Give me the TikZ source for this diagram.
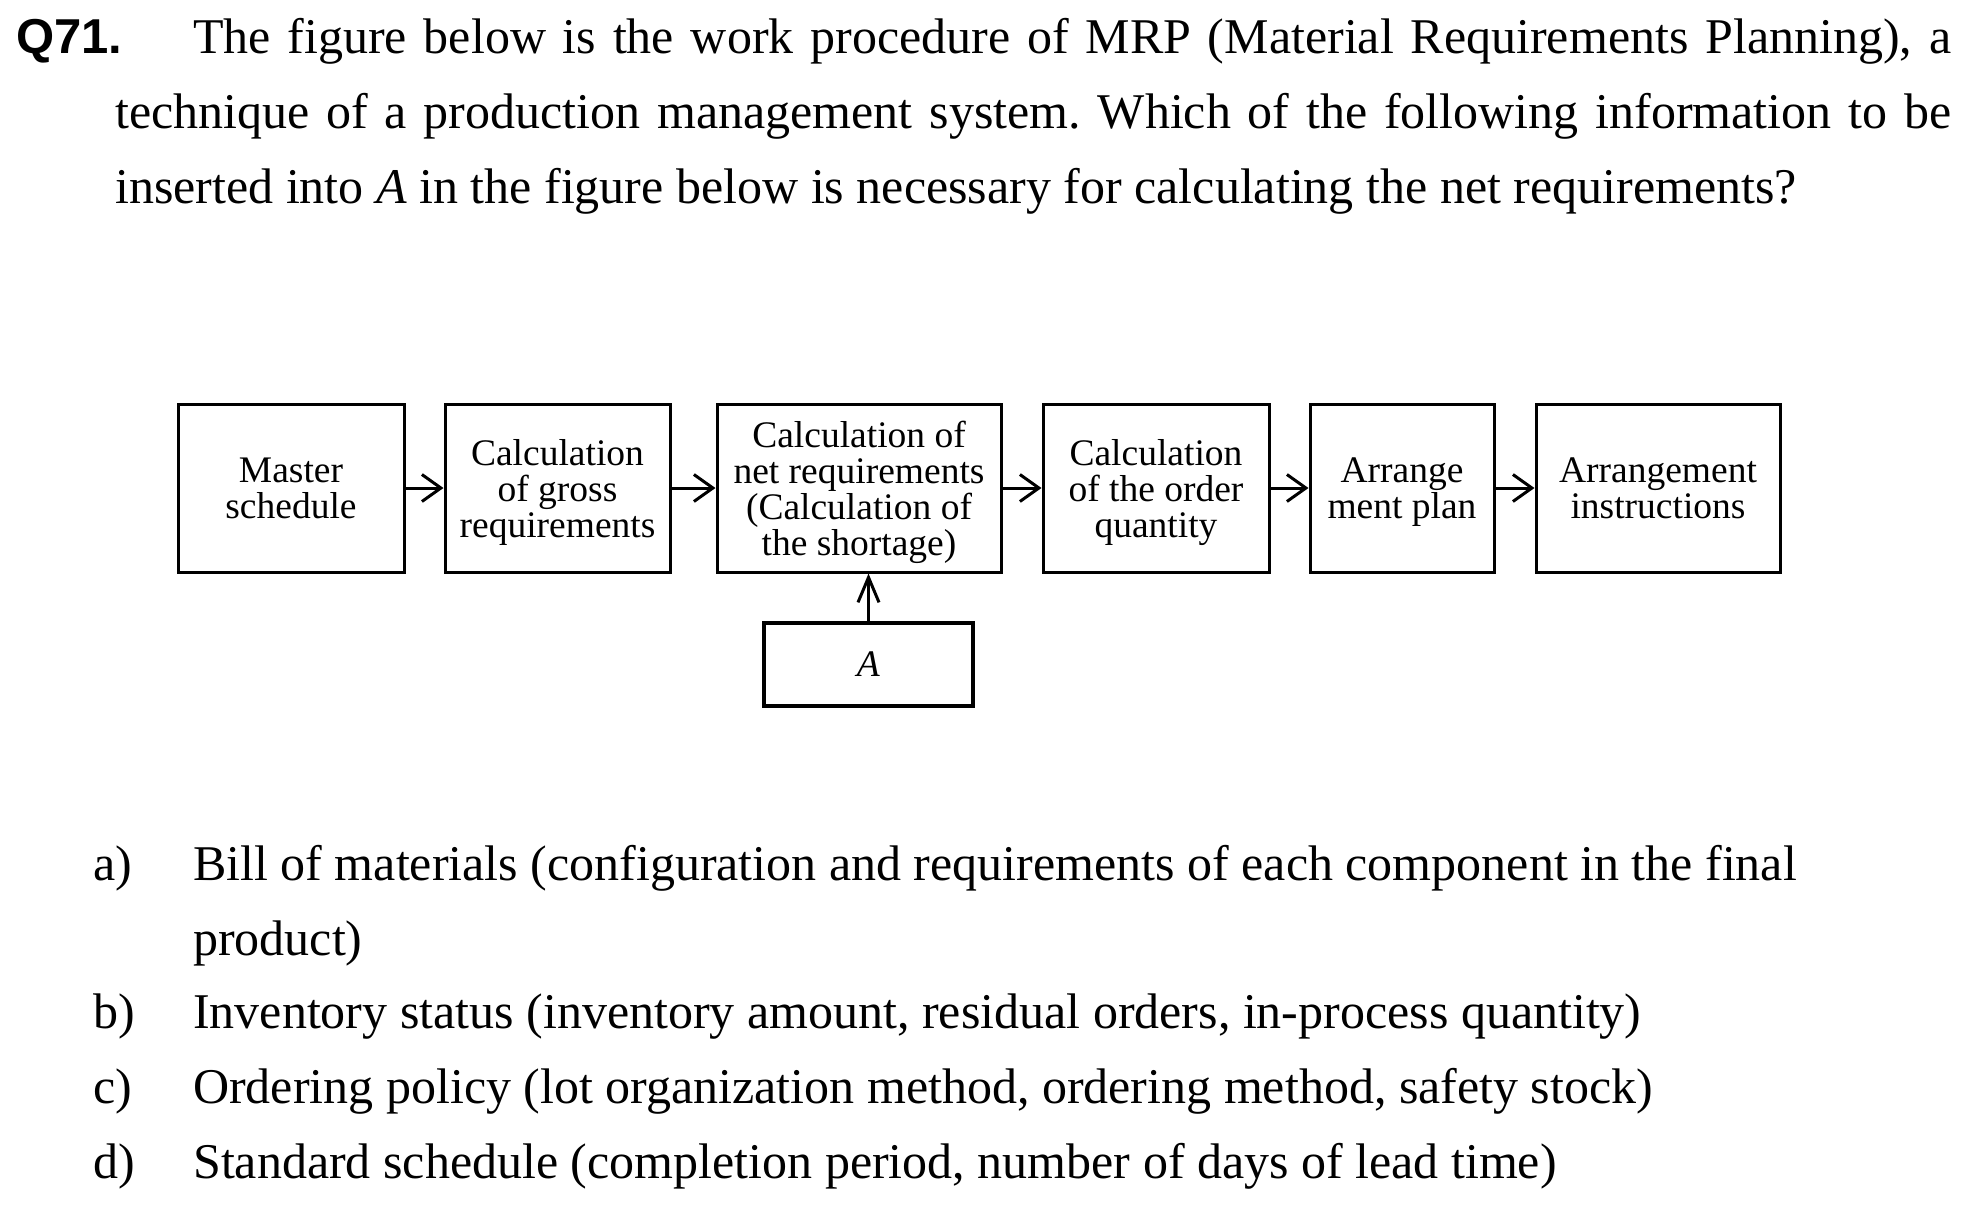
\documentclass[tikz,border=0pt]{standalone}
\usepackage{fontspec}
\setmainfont{Liberation Serif}
\newfontfamily\qnofont{Liberation Sans}
\usetikzlibrary{arrows.meta}
\frenchspacing

\tikzset{
  stage/.style={draw, line width=3pt, inner sep=0pt, minimum height=168pt, align=center,
    text depth=0pt, font=\fontsize{37.5}{36}\selectfont},
  flow/.style={-{Straight Barb[length=19pt,width=27pt]}, line width=3pt},
  upflow/.style={-{Straight Barb[length=25pt,width=21pt]}, line width=3pt},
  body/.style={anchor=base west, inner sep=0pt, font=\fontsize{50}{75}\selectfont},
}

\begin{document}
\begin{tikzpicture}[x=1pt,y=-1pt]
\useasboundingbox (0,0) rectangle (1966,1205);
% question
\node[body, font=\fontsize{49}{75}\qnofont\bfseries] (qno) at (16,53) {Q71.};
\node[body] (qline1) at (193,53) {\makebox[1758pt][s]{The figure below is the work procedure of MRP (Material Requirements Planning), a}};
\node[body] (qline2) at (115,128) {\makebox[1836pt][s]{technique of a production management system. Which of the following information to be}};
\node[body] (qline3) at (115,203) {inserted into \textit{A} in the figure below is necessary for calculating the net requirements?};

% MRP procedure
\node[stage, minimum width=226pt] (master) at (291,488) {Master\\schedule};
\node[stage, minimum width=225pt] (gross) at (557.5,488) {Calculation\\of gross\\requirements};
\node[stage, minimum width=284pt] (net) at (859,488) {Calculation of\\net requirements\\(Calculation of\\the shortage)};
\node[stage, minimum width=226pt] (order) at (1156,488) {Calculation\\of the order\\quantity};
\node[stage, minimum width=184pt] (arrange) at (1402,488) {Arrange\\ment plan};
\node[stage, minimum width=244pt] (instr) at (1658,488) {Arrangement\\instructions};
\node[stage, minimum width=209pt, minimum height=83pt, line width=4.5pt] (A) at (868.5,664.5) {\textit{A}};

\draw[flow] (master.east) -- (gross.west);
\draw[flow] (gross.east) -- (net.west);
\draw[flow] (net.east) -- (order.west);
\draw[flow] (order.east) -- (arrange.west);
\draw[flow] (arrange.east) -- (instr.west);
\draw[upflow] (A.north) -- (A.north |- net.south);

% choices
\node[body] (la) at (93,880) {a)};
\node[body] (opta) at (193,880) {Bill of materials (configuration and requirements of each component in the final};
\node[body] (opta2) at (193,955) {product)};
\node[body] (lb) at (93,1028) {b)};
\node[body] (optb) at (193,1028) {Inventory status (inventory amount, residual orders, in-process quantity)};
\node[body] (lc) at (93,1103) {c)};
\node[body] (optc) at (193,1103) {Ordering policy (lot organization method, ordering method, safety stock)};
\node[body] (ld) at (93,1178) {d)};
\node[body] (optd) at (193,1178) {Standard schedule (completion period, number of days of lead time)};
\end{tikzpicture}
\end{document}
